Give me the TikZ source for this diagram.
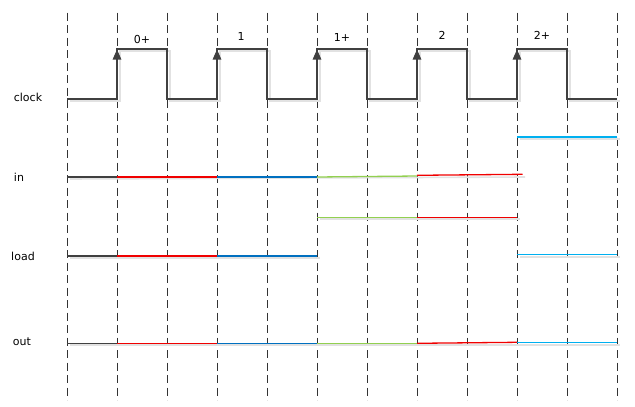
\documentclass[tikz,border=0pt]{standalone}
\usepackage{fontspec}
\setmainfont{DejaVu Sans}
\usetikzlibrary{arrows.meta}
\definecolor{sig}{HTML}{404040}
\definecolor{gridc}{HTML}{333333}
\definecolor{shad}{HTML}{E2E2E2}
\definecolor{sred}{HTML}{F00000}
\definecolor{sblue}{HTML}{0070C0}
\definecolor{sgreen}{HTML}{92D050}
\definecolor{slblue}{HTML}{00B0F0}
\begin{document}
\begin{tikzpicture}[x=1pt,y=-1pt,
  gridline/.style={draw=gridc,line width=1pt,dash pattern=on 8pt off 4.5pt},
  wave/.style={line width=1.3pt},
  shadow/.style={draw=shad,line width=1.6pt,shift={(3,2)}},
  lbl/.style={font=\fontsize{11}{13}\selectfont,text=black,inner sep=0pt},
  rise/.style={draw=sig,line width=1.3pt,-{Triangle[width=8.5pt,length=10pt]}}]
\useasboundingbox[fill=white] (0,0) rectangle (635,407);
% grid
\foreach \i in {0,...,11}
  \draw[gridline] (67+50*\i,12.5) -- (67+50*\i,400);
% shadows
\draw[shadow] (67,99) -- (117,99) -- (117,49) -- (167,49) -- (167,99) -- (217,99) -- (217,49) -- (267,49) -- (267,99) -- (317,99) -- (317,49) -- (367,49) -- (367,99) -- (417,99) -- (417,49) -- (467,49) -- (467,99) -- (517,99) -- (517,49) -- (567,49) -- (567,99) -- (617,99);
\draw[shadow] (67,177) -- (522,175);
\draw[shadow] (517,137) -- (617,137);
\draw[shadow] (317,217) -- (517,217);
\draw[shadow] (67,256) -- (317,256);
\draw[shadow] (517,255) -- (617,255);
\draw[shadow] (67,343) -- (617,343);
% clock
\draw[wave,draw=sig] (67,99) -- (117,99) -- (117,49) -- (167,49) -- (167,99) -- (217,99) -- (217,49) -- (267,49) -- (267,99) -- (317,99) -- (317,49) -- (367,49) -- (367,99) -- (417,99) -- (417,49) -- (467,49) -- (467,99) -- (517,99) -- (517,49) -- (567,49) -- (567,99) -- (617,99);
\foreach \x in {117,217,317,417,517}
  \draw[rise] (\x,99) -- (\x,49.5);
% in
\draw[wave,draw=sig] (67,177) -- (117,177);
\draw[wave,draw=sred] (117,177) -- (217,177);
\draw[wave,draw=sblue] (217,177) -- (317,177);
\draw[wave,draw=sgreen] (317,177) -- (417,176);
\draw[wave,draw=sred] (417,175.3) -- (522.5,174.3);
\draw[wave,draw=slblue] (517,137) -- (617,137);
% load
\draw[wave,draw=sig] (67,256) -- (117,256);
\draw[wave,draw=sred] (117,256) -- (217,256);
\draw[wave,draw=sblue] (217,256) -- (317,256);
\draw[wave,draw=sgreen] (317,217.3) -- (417,217.3);
\draw[wave,draw=sred] (417,217.3) -- (517,217.3);
\draw[wave,draw=slblue] (517,254.5) -- (617,254.5);
% out
\draw[wave,draw=sig] (67,343.3) -- (117,343.3);
\draw[wave,draw=sred] (117,343.3) -- (217,343.3);
\draw[wave,draw=sblue] (217,343.3) -- (317,343.3);
\draw[wave,draw=sgreen] (317,343.3) -- (417,343.3);
\draw[wave,draw=sred] (417,343.3) -- (517,342.3);
\draw[wave,draw=slblue] (517,342.3) -- (617,342.3);
% labels
\node[lbl] (lclock) at (28,97) {clock};
\node[lbl] (lin) at (19,177) {in};
\node[lbl] (lload) at (23,256) {load};
\node[lbl] (lout) at (22,342) {out};
\node[lbl] (e0) at (142,39) {0+};
\node[lbl] (e1) at (241,36) {1};
\node[lbl] (e1p) at (342,37) {1+};
\node[lbl] (e2) at (442,35) {2};
\node[lbl] (e2p) at (542,35) {2+};
\end{tikzpicture}
\end{document}
